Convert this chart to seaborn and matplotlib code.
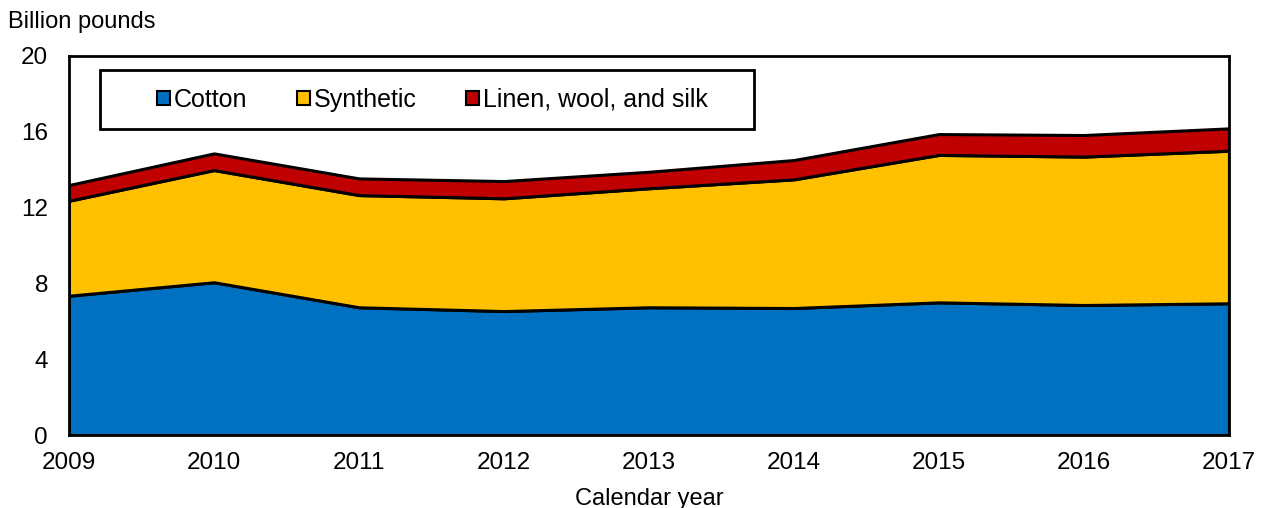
import matplotlib.pyplot as plt
import matplotlib.patches as mpatches
import seaborn as sns
import pandas as pd

# Data (billion pounds)
years = [2009, 2010, 2011, 2012, 2013, 2014, 2015, 2016, 2017]
cotton = [7.35, 8.06, 6.74, 6.54, 6.74, 6.70, 7.00, 6.86, 6.95]
synthetic = [5.01, 5.92, 5.92, 5.95, 6.28, 6.79, 7.78, 7.83, 8.05]
linen_wool_silk = [0.83, 0.88, 0.88, 0.91, 0.87, 1.02, 1.10, 1.14, 1.18]
series_names = ['Cotton', 'Synthetic', 'Linen, wool, and silk']
colors = ['#0070C0', '#FFC000', '#C00000']
yticks = [0, 4, 8, 12, 16, 20]

df = pd.DataFrame({'year': years, 'Cotton': cotton, 'Synthetic': synthetic,
                   'Linen, wool, and silk': linen_wool_silk})

sns.set_style('white')
plt.rcParams['font.family'] = ['Liberation Sans', 'DejaVu Sans']
plt.rcParams['text.color'] = 'black'

fig = plt.figure(figsize=(12.65, 5.08), dpi=100)
ax = fig.add_axes([0.0545, 0.1437, 0.917, 0.7461])

ax.stackplot(df['year'], [df[n] for n in series_names], colors=colors,
             edgecolor='black', linewidth=2.2)

ax.set_xlim(years[0], years[-1])
ax.set_ylim(0, 20)
ax.set_xticks(years)
ax.set_yticks(yticks)
ax.tick_params(axis='both', direction='inout', length=12, width=1.2,
               labelsize=17.5, color='black', labelcolor='black')
ax.tick_params(axis='x', pad=6)
ax.tick_params(axis='y', pad=9)
for s in ax.spines.values():
    s.set_color('black')
    s.set_linewidth(2)

# legend box drawn as a plain rectangle, entries placed inside it
box = mpatches.Rectangle((0.0267, 0.807), 0.5638, 0.156, transform=ax.transAxes,
                         facecolor='white', edgecolor='black', linewidth=2,
                         zorder=5, clip_on=False)
ax.add_patch(box)
handles = [mpatches.Patch(facecolor=c, edgecolor='black', linewidth=1.5, label=n)
           for c, n in zip(colors, series_names)]
leg = ax.legend(handles=handles, ncol=3, loc='center',
                bbox_to_anchor=(0.3135, 0.884), fontsize=18, frameon=False,
                handlelength=0.52, handleheight=0.52, handletextpad=0.16,
                columnspacing=1.97, borderpad=0)
leg.set_zorder(6)

fig.text(0.006, 0.957, 'Billion pounds', fontsize=17, ha='left', va='center')
fig.text(0.513, 0.017, 'Calendar year', fontsize=17, ha='center', va='center')

fig.savefig('out.png', dpi=100)
